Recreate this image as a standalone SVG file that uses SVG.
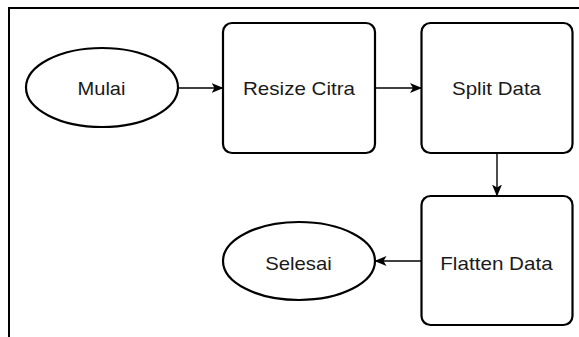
<svg xmlns="http://www.w3.org/2000/svg" width="579" height="337" viewBox="0 0 579 337">
<defs>
<style>
.shape{fill:#fff;stroke:#000;stroke-width:2.2}
.frame{fill:none;stroke:#000;stroke-width:2}
.edge{fill:none;stroke:#000;stroke-width:1.4}
.lbl{font-family:"Liberation Sans",Arial,sans-serif;font-size:19px;fill:#1a1a1a;text-anchor:middle}
</style>
<marker id="arr" viewBox="0 0 12 10" refX="11.5" refY="5" markerWidth="12" markerHeight="10" markerUnits="userSpaceOnUse" orient="auto">
<path d="M0,0 L12,5 L0,10 L3,5 Z" fill="#000"/>
</marker>
</defs>
<rect width="579" height="337" fill="#fff"/>
<path class="frame" d="M9,337 V8 H579"/>
<g id="connectors">
<line class="edge" x1="178" y1="88" x2="223" y2="88" marker-end="url(#arr)"/>
<line class="edge" x1="375" y1="88" x2="421.5" y2="88" marker-end="url(#arr)"/>
<line class="edge" x1="497" y1="153" x2="497" y2="196" marker-end="url(#arr)"/>
<line class="edge" x1="421.5" y1="261" x2="375" y2="261" marker-end="url(#arr)"/>
</g>
<g id="mulai">
<ellipse class="shape" cx="102" cy="87.5" rx="76" ry="39.5"/>
<text class="lbl" x="101.5" y="95" textLength="48" lengthAdjust="spacingAndGlyphs">Mulai</text>
</g>
<g id="resize">
<rect class="shape" x="223" y="23" width="152" height="130" rx="9"/>
<text class="lbl" x="299" y="95" textLength="112" lengthAdjust="spacingAndGlyphs">Resize Citra</text>
</g>
<g id="split">
<rect class="shape" x="421.5" y="23" width="151" height="130" rx="9"/>
<text class="lbl" x="496.5" y="95" textLength="89" lengthAdjust="spacingAndGlyphs">Split Data</text>
</g>
<g id="flatten">
<rect class="shape" x="421.5" y="196" width="151" height="129" rx="9"/>
<text class="lbl" x="496.5" y="270" textLength="112.5" lengthAdjust="spacingAndGlyphs">Flatten Data</text>
</g>
<g id="selesai">
<ellipse class="shape" cx="299" cy="261" rx="76" ry="39"/>
<text class="lbl" x="298.5" y="270" textLength="66.5" lengthAdjust="spacingAndGlyphs">Selesai</text>
</g>
</svg>
